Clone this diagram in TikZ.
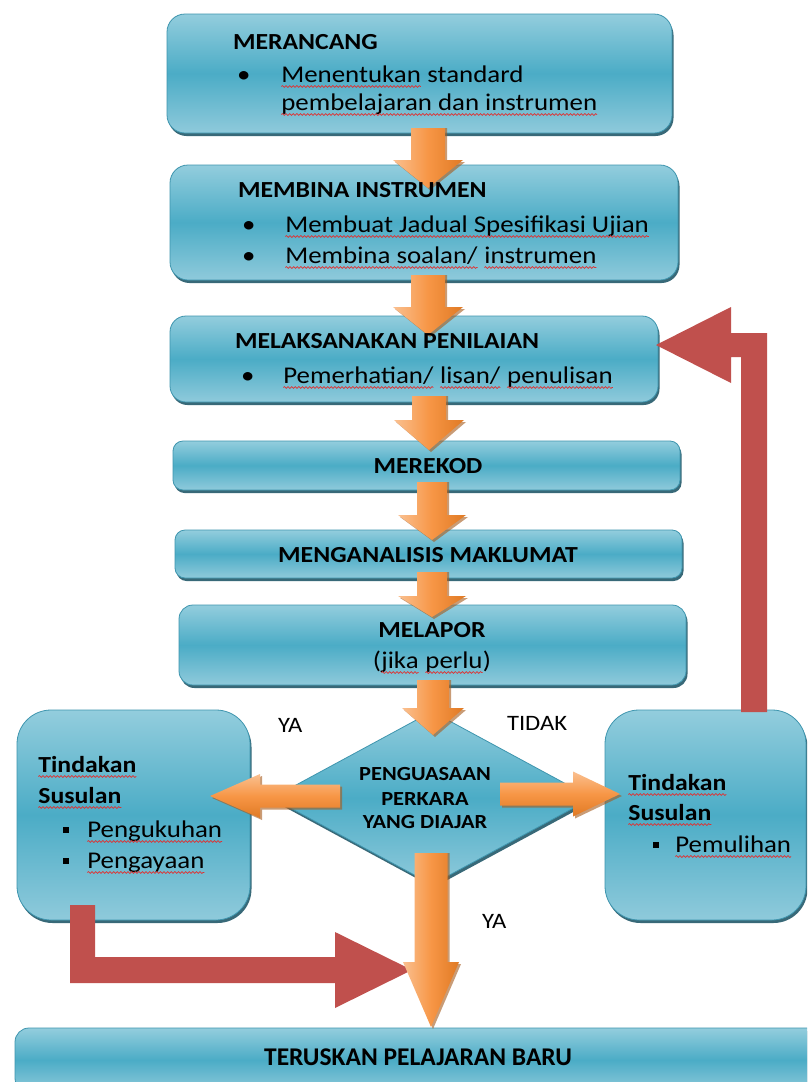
\documentclass[tikz,border=0pt]{standalone}
\usepackage{fontspec}
\setmainfont{Carlito}[FakeStretch=1.12]
\newfontfamily\nrwfont{Carlito}
\usetikzlibrary{shapes.geometric,shadows,decorations.pathmorphing}
\definecolor{bxtop}{HTML}{93CDDD}
\definecolor{bxmid}{HTML}{4BACC6}
\definecolor{bxbot}{HTML}{8FCADB}
\definecolor{bxline}{HTML}{3E95AE}
\definecolor{bxshadow}{HTML}{23596A}
\definecolor{orL}{HTML}{FAC090}
\definecolor{orM}{HTML}{F79646}
\definecolor{orD}{HTML}{E07A24}
\definecolor{orS}{HTML}{A65A1C}
\definecolor{redA}{HTML}{C0504D}
\definecolor{wavy}{HTML}{E03030}
\newcommand\wv[1]{\tikz[baseline=(w.base)]{\node[inner sep=0pt,outer sep=0pt] (w) {#1};
  \draw[wavy, line width=.7pt, decorate, decoration={snake, amplitude=.9pt, segment length=3.6pt}] ([yshift=-4.5pt]w.base west) -- ([yshift=-4.5pt]w.base east);}}
\newcommand\hfs{\fontsize{23}{27}\selectfont\bfseries}
\newcommand\bfs{\fontsize{24}{28}\selectfont}
\newcommand\dfs{\fontsize{20}{24}\selectfont\bfseries}
\newcommand\lfs{\fontsize{22}{26}\selectfont}
\newcommand\sqb{\rule[4pt]{6pt}{6pt}}
% vertical block arrow: cx, shaft top, head top, tip, shaft half, head half
\newcommand\oarr[6]{%
  \fill[orS,opacity=.6] ({#1-#5+2},#2) -- ({#1+#5+2},#2) -- ({#1+#5+2},{#3+2}) -- ({#1+#6+2},{#3+2}) -- ({#1+2},{#4+2}) -- ({#1-#6+2},{#3+2}) -- ({#1-#5+2},{#3+2}) -- cycle;
  \shade[left color=orL,right color=orD,middle color=orM] ({#1-#5},#2) -- ({#1+#5},#2) -- ({#1+#5},#3) -- ({#1+#6},#3) -- (#1,#4) -- ({#1-#6},#3) -- ({#1-#5},#3) -- cycle;}
% horizontal block arrow: cy, shaft start, head base, tip, shaft half, head half
\newcommand\harr[6]{%
  \fill[orS,opacity=.6] ({#2+2},{#1-#5+2}) -- ({#3+2},{#1-#5+2}) -- ({#3+2},{#1-#6+2}) -- ({#4+2},{#1+2}) -- ({#3+2},{#1+#6+2}) -- ({#3+2},{#1+#5+2}) -- ({#2+2},{#1+#5+2}) -- cycle;
  \shade[top color=orL,bottom color=orD,middle color=orM] (#2,{#1-#5}) -- (#3,{#1-#5}) -- (#3,{#1-#6}) -- (#4,#1) -- (#3,{#1+#6}) -- (#3,{#1+#5}) -- (#2,{#1+#5}) -- cycle;}
\tikzset{
  every node/.style={inner sep=0pt, outer sep=0pt},
  bluebox/.style={draw=bxline, line width=.8pt, top color=bxtop, bottom color=bxbot, middle color=bxmid, rounded corners=#1, drop shadow={shadow xshift=1.5pt, shadow yshift=-3pt, fill=bxshadow, opacity=.9}},
  bluebox/.default=16pt,
  hd/.style={anchor=base west, font=\hfs},
  hdc/.style={anchor=base, font=\hfs},
  bd/.style={anchor=base west, font=\bfs},
  bdc/.style={anchor=base, font=\bfs},
  dtx/.style={anchor=base, font=\dfs},
  lbl/.style={anchor=base west, font=\lfs},
}
\begin{document}
\begin{tikzpicture}[x=1pt,y=-1pt]
\useasboundingbox (0,0) rectangle (807,1082);
\clip (0,0) rectangle (807,1082);
\fill[white] (0,0) rectangle (807,1082);
% boxes
\node[bluebox=18pt, minimum width=505pt, minimum height=119pt] (b1) at (419.5,73.5) {};
\node[bluebox=18pt, minimum width=508pt, minimum height=115pt] (b2) at (424,222.5) {};
\node[bluebox=16pt, minimum width=488pt, minimum height=86pt] (b3) at (414,359) {};
\node[bluebox=10pt, minimum width=507pt, minimum height=49pt] (b4) at (426.5,465.5) {};
\node[bluebox=10pt, minimum width=507pt, minimum height=48pt] (b5) at (428.5,554) {};
\node[bluebox=14pt, minimum width=507pt, minimum height=80pt] (b6) at (432.5,645) {};
\node[diamond, draw=bxline, line width=.8pt, top color=bxtop, bottom color=bxbot, middle color=bxmid, drop shadow={shadow xshift=1.5pt, shadow yshift=-3pt, fill=bxshadow, opacity=.9}, minimum width=320pt, minimum height=173pt] (D) at (432,798) {};
\node[bluebox=34pt, minimum width=233pt, minimum height=210pt] (L) at (133.5,815) {};
\node[bluebox=34pt, minimum width=201pt, minimum height=210pt] (R) at (705.5,815) {};
\node[bluebox=14pt, minimum width=820pt, minimum height=64pt] (T) at (425,1060) {};
% red feedback arrows
\fill[redA] (741,712) -- (767,712) -- (767,333) -- (731,333) -- (731,307) -- (656,345) -- (731,383) -- (731,357) -- (741,357) -- cycle;
\fill[redA] (70,905) -- (95,905) -- (95,957) -- (335,957) -- (335,932) -- (412,970) -- (335,1008) -- (335,983) -- (70,983) -- cycle;
% orange flow arrows
\oarr{428}{128}{160}{188}{17}{35}
\oarr{428}{275}{307}{335}{17}{35}
\oarr{429}{396}{420}{450}{17}{35}
\oarr{432}{482}{515}{540}{15}{34}
\oarr{432}{572}{596}{617}{15}{34}
\oarr{433}{680}{708}{735}{16}{31}
\oarr{431}{853}{962}{1027}{16.5}{28}
\harr{796}{340}{260}{210}{11.5}{22}
\harr{794}{500}{573}{620}{11.5}{22.5}
% texts
\node[hd] (t1) at (233,49) {MERANCANG};
\node[bd] (t1a) at (237,82) {•};
\node[bd] (t1b) at (281,82) {\wv{Menentukan} standard};
\node[bd] (t1c) at (281,110) {\wv{pembelajaran dan instrumen}};
\node[hd] (t2) at (238,197) {MEMBINA INSTRUMEN};
\node[bd] (t2a) at (242,232) {•};
\node[bd] (t2b) at (285,232) {\wv{Membuat Jadual Spesifikasi Ujian}};
\node[bd] (t2c) at (242,263) {•};
\node[bd] (t2d) at (285,263) {\wv{Membina soalan/} \wv{instrumen}};
\node[hd] (t3) at (235,348) {MELAKSANAKAN PENILAIAN};
\node[bd] (t3a) at (241,383) {•};
\node[bd] (t3b) at (283,383) {\wv{Pemerhatian/} \wv{lisan/} \wv{penulisan}};
\node[hdc] (t4) at (428,473) {MEREKOD};
\node[hdc] (t5) at (428,562) {MENGANALISIS MAKLUMAT};
\node[hdc] (t6) at (432,637) {MELAPOR};
\node[bdc] (t6a) at (432,668) {(\wv{jika} \wv{perlu})};
\node[dtx] (d1) at (425,780) {PENGUASAAN};
\node[dtx] (d2) at (425,805) {PERKARA};
\node[dtx] (d3) at (425,828) {YANG DIAJAR};
\node[hd] (l1) at (38,772) {\wv{Tindakan}};
\node[hd] (l2) at (38,803) {\wv{Susulan}};
\node[bd] (l3) at (63,837) {\sqb};
\node[bd] (l4) at (87,837) {\wv{Pengukuhan}};
\node[bd] (l5) at (63,868) {\sqb};
\node[bd] (l6) at (87,868) {\wv{Pengayaan}};
\node[hd] (r1) at (628,790) {\wv{Tindakan}};
\node[hd] (r2) at (628,820) {\wv{Susulan}};
\node[bd] (r3) at (653,852) {\sqb};
\node[bd] (r4) at (675,852) {\wv{Pemulihan}};
\node[lbl] (ya1) at (278,732) {YA};
\node[lbl] (tdk) at (507,730) {TIDAK};
\node[lbl] (ya2) at (482,928) {YA};
\node[anchor=base, font=\nrwfont\fontsize{25.5}{30}\selectfont\bfseries] (tb) at (418,1065) {TERUSKAN PELAJARAN BARU};
\end{tikzpicture}
\end{document}
